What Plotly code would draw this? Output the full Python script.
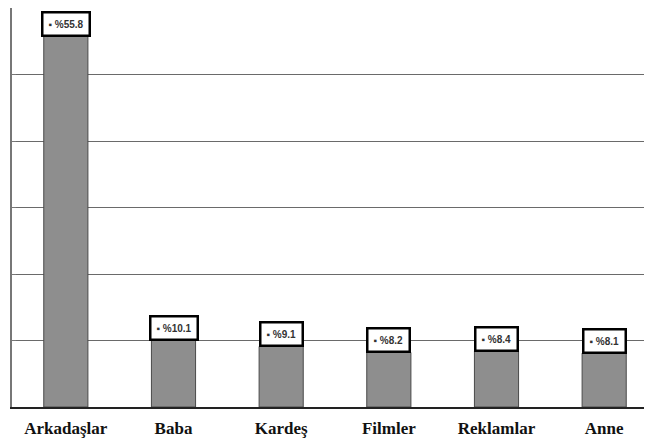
import plotly.graph_objects as go

categories = ["Arkadaşlar", "Baba", "Kardeş", "Filmler", "Reklamlar", "Anne"]
values = [55.8, 10.1, 9.1, 8.2, 8.4, 8.1]
labels = ["▪ %55.8", "▪ %10.1", "▪ %9.1", "▪ %8.2", "▪ %8.4", "▪ %8.1"]

fig = go.Figure()
fig.add_trace(go.Bar(
    x=categories, y=values, width=0.41,
    marker=dict(color="#8e8e8e", line=dict(color="#4a4a4a", width=1)),
    hoverinfo="skip",
))

for c, v, t in zip(categories, values, labels):
    fig.add_annotation(
        x=c, y=v, text="<b>" + t + "</b>", showarrow=False, yanchor="bottom", yshift=-1,
        font=dict(family="Liberation Sans", size=10, color="#333"),
        bgcolor="white", bordercolor="black", borderwidth=2.5, borderpad=5,
    )

fig.update_layout(
    width=652, height=443,
    margin=dict(l=4, r=2, t=0, b=44),
    paper_bgcolor="white", plot_bgcolor="white",
    showlegend=False, bargap=0.59,
    xaxis=dict(
        showline=True, linecolor="#222", linewidth=2,
        ticks="", showgrid=False, ticklabelstandoff=5,
        tickfont=dict(family="Liberation Serif", size=17, color="#111", weight="bold"),
    ),
    yaxis=dict(
        range=[0, 60], dtick=10, showticklabels=False,
        showgrid=True, gridcolor="#6a6a6a", gridwidth=1,
        showline=True, linecolor="#777", linewidth=2,
        ticks="inside", ticklen=4, tickcolor="#777",
        zeroline=False,
    ),
)

fig.write_html("out.html")
